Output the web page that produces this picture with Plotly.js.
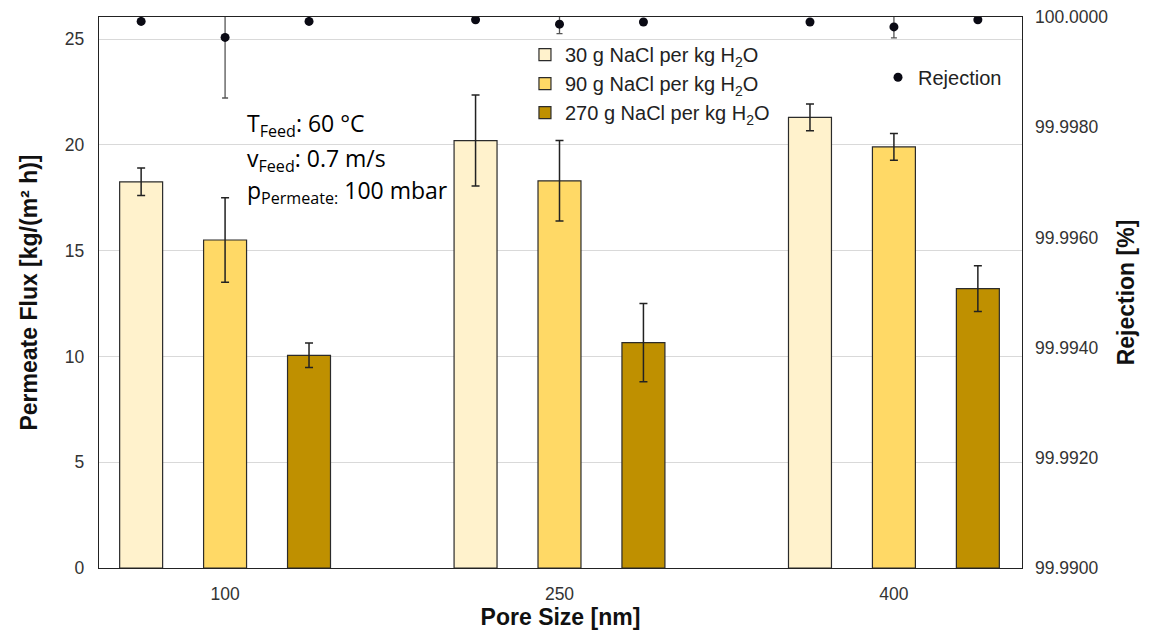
<!DOCTYPE html>
<html>
<head>
<meta charset="utf-8">
<script src="https://cdn.plot.ly/plotly-3.0.1.min.js"></script>
<style>html,body{margin:0;padding:0;background:#fff;}#chart{width:1158px;height:632px;}</style>
</head>
<body>
<div id="chart"></div>
<script>
// ---- data ----
const poreSizes = ['100', '250', '400'];
const seriesNames = ['30 g NaCl per kg H<sub>2</sub>O', '90 g NaCl per kg H<sub>2</sub>O', '270 g NaCl per kg H<sub>2</sub>O'];
const flux30 = [18.25, 20.2, 21.3];
const flux30Err = [0.65, 2.15, 0.63];
const flux90 = [15.5, 18.3, 19.9];
const flux90Err = [2.0, 1.9, 0.63];
const flux270 = [10.05, 10.65, 13.2];
const flux270Err = [0.58, 1.85, 1.08];
// rejection per pore size, ordered 30 / 90 / 270 g
const rejection100 = [99.99992, 99.99963, 99.99992];
const rejection100Err = [0.00001, 0.0011, 0.00001];
const rejection250 = [99.99995, 99.99987, 99.99991];
const rejection250Err = [0.00001, 0.00017, 0.00001];
const rejection400 = [99.99991, 99.99982, 99.99995];
const rejection400Err = [0.00001, 0.0002, 0.00001];

const colors = ['#FFF2CC', '#FFD966', '#BF9000'];
const fluxes = [flux30, flux90, flux270];
const fluxErrs = [flux30Err, flux90Err, flux270Err];
const slot = 0.251, barW = 0.1285;
const baseX = poreSizes.map((c, i) => i);

const traces = [];
fluxes.forEach((vals, k) => {
  traces.push({
    type: 'bar', name: seriesNames[k], x: baseX, y: vals,
    width: barW, offset: (k - 1) * slot - barW / 2,
    marker: {color: colors[k], line: {color: '#2b2b2b', width: 1.2}},
    error_y: {type: 'data', array: fluxErrs[k], visible: true, color: '#222', thickness: 1.5, width: 4},
    legendgroup: 'g' + k, legend: 'legend', hoverinfo: 'y'
  });
});
const rej = [rejection100, rejection250, rejection400];
const rejErr = [rejection100Err, rejection250Err, rejection400Err];
const rx = [], ry = [], re = [];
baseX.forEach((b, i) => {
  for (let k = 0; k < 3; k++) { rx.push(b + (k - 1) * slot); ry.push(rej[i][k]); re.push(rejErr[i][k]); }
});
traces.push({
  type: 'scatter', mode: 'markers', name: 'Rejection', x: rx, y: ry, yaxis: 'y2',
  marker: {color: '#0a0a14', size: 9},
  error_y: {type: 'data', array: re, visible: true, color: '#555', thickness: 1.3, width: 3},
  legend: 'legend2', cliponaxis: true
});

const tickFont = {family: 'Liberation Sans, Arial, sans-serif', size: 17.5, color: '#333'};
const titleFont = {family: 'Liberation Sans, Arial, sans-serif', size: 23, color: '#111', weight: 'bold'};
const legFont = {family: 'Liberation Sans, Arial, sans-serif', size: 20, color: '#222'};
const annFont = {family: 'Open Sans, Noto Sans, sans-serif', size: 23, color: '#000'};

const layout = {
  width: 1158, height: 632,
  margin: {l: 99, r: 136, t: 17, b: 64},
  paper_bgcolor: '#fff', plot_bgcolor: '#fff',
  barmode: 'overlay',
  xaxis: {
    type: 'linear', range: [-0.377, 2.383], tickvals: baseX, ticktext: poreSizes,
    showgrid: false, zeroline: false, showline: true, linecolor: '#222', linewidth: 1.3, mirror: true,
    ticks: '', tickfont: tickFont, ticklabelstandoff: 10,
    title: {text: 'Pore Size [nm]', font: titleFont, standoff: 4}
  },
  yaxis: {
    range: [0, 26.04], dtick: 5, showgrid: true, gridcolor: '#d9d9d9', gridwidth: 1,
    zeroline: false, showline: true, linecolor: '#222', linewidth: 1.3, mirror: true,
    ticks: '', tickfont: tickFont, ticklabelstandoff: 10,
    title: {text: 'Permeate Flux [kg/(m² h)]', font: titleFont, standoff: 20}
  },
  yaxis2: {
    overlaying: 'y', side: 'right', range: [99.99, 100.0], dtick: 0.002, tick0: 99.99,
    tickformat: '.4f', showgrid: false, zeroline: false, showline: false, ticks: '',
    tickfont: tickFont, ticklabelstandoff: 12,
    title: {text: 'Rejection [%]', font: titleFont, standoff: 10}
  },
  legend: {
    x: 0.4615, y: 0.967, xanchor: 'left', yanchor: 'top', bgcolor: 'rgba(0,0,0,0)',
    font: legFont, tracegroupgap: 4, traceorder: 'normal'
  },
  legend2: {
    x: 0.844, y: 0.926, xanchor: 'left', yanchor: 'top', bgcolor: 'rgba(0,0,0,0)',
    font: legFont
  },
  annotations: [
    {text: 'T<sub>Feed</sub>: 60 °C', x: 0.158, y: 0.805},
    {text: 'v<sub>Feed</sub>: 0.7 m/s', x: 0.158, y: 0.742},
    {text: 'p<sub>Permeate:</sub> 100 mbar', x: 0.158, y: 0.683}
  ].map(a => Object.assign({xref: 'paper', yref: 'paper', xanchor: 'left', yanchor: 'middle', showarrow: false, font: annFont}, a))
};

Plotly.newPlot('chart', traces, layout, {displayModeBar: false, staticPlot: true});
</script>
</body>
</html>
